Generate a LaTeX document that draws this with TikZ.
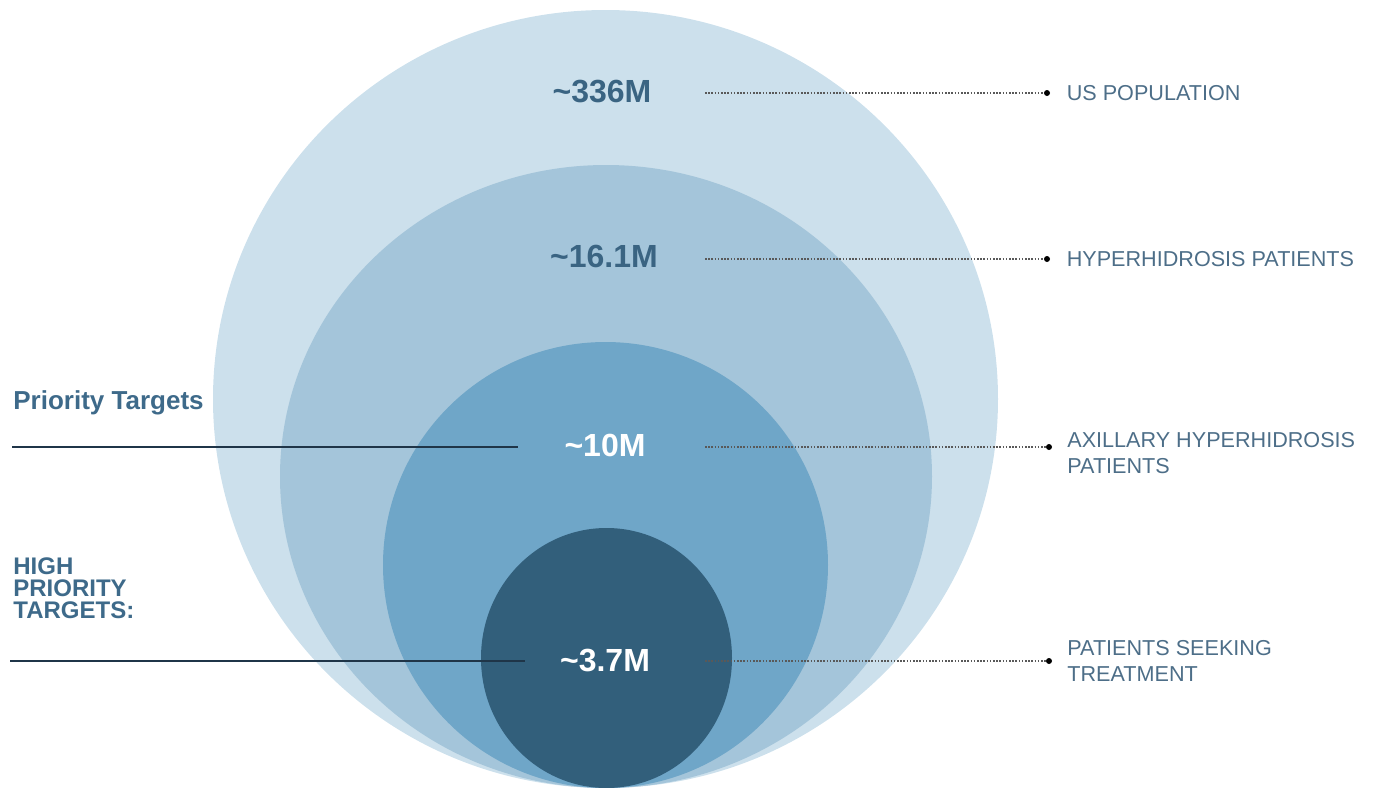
\documentclass[tikz,border=0pt]{standalone}
\usepackage{fontspec}
\setmainfont{Liberation Sans}
\usepackage{tikz}
\usetikzlibrary{positioning}

\definecolor{ringA}{HTML}{CCE0EC}
\definecolor{ringB}{HTML}{A4C5DA}
\definecolor{ringC}{HTML}{6FA6C8}
\definecolor{ringD}{HTML}{325F7B}
\definecolor{numtext}{HTML}{3A6482}
\definecolor{lbltext}{HTML}{4D6E88}
\definecolor{tgttext}{HTML}{3E6A8A}
\definecolor{tgtline}{HTML}{1F3548}

\begin{document}
\begin{tikzpicture}[x=0.5pt, y=-0.5pt, font=\sffamily]

        \tikzstyle{value}=[font=\bfseries\fontsize{16}{18}\selectfont, inner sep=0pt]
        \tikzstyle{dot}=[circle, fill=black, inner sep=0pt, minimum size=3pt]
        \tikzstyle{label}=[font=\fontsize{10.8}{13}\selectfont, text=lbltext, align=left, anchor=west, inner sep=0pt]
        \tikzstyle{target}=[font=\bfseries\fontsize{12}{11}\selectfont, text=tgttext, align=left, anchor=north west, inner sep=0pt]
        \tikzstyle{leader}=[draw=black!65, line width=0.65pt, dash pattern=on 0.8pt off 0.8pt]
        \tikzstyle{bar}=[draw=tgtline, line width=1.4pt]

        \useasboundingbox (0,0) rectangle (1373,788);

        % nested populations, all resting on the bottom edge
        \fill[ringA] (605.5,399) ellipse [x radius=392.5, y radius=389];
        \fill[ringB] (606,476.5) ellipse [x radius=326, y radius=311.5];
        \fill[ringC] (605.5,565) ellipse [x radius=222.5, y radius=223];
        \fill[ringD] (606.5,658) ellipse [x radius=125.5, y radius=130];

        \node[value, text=numtext] (us)   at (602,92)  {\char`\~336M};
        \node[value, text=numtext] (hyp)  at (604,256) {\char`\~16.1M};
        \node[value, text=white]   (axl)  at (605,445) {\char`\~10M};
        \node[value, text=white]   (seek) at (605,660) {\char`\~3.7M};

        \coordinate (us-l)   at (705,93);
        \coordinate (hyp-l)  at (705,259);
        \coordinate (axl-l)  at (705,447);
        \coordinate (seek-l) at (705,661);

        \node[dot] (us-d)   at (1047,93)  {};
        \node[dot] (hyp-d)  at (1047,259) {};
        \node[dot] (axl-d)  at (1049,447) {};
        \node[dot] (seek-d) at (1049,661) {};

        \node[label] (us-t)   [right=8pt of us-d]   {US POPULATION};
        \node[label] (hyp-t)  [right=8pt of hyp-d]  {HYPERHIDROSIS PATIENTS};
        \node[label] (axl-t)  at (1067,453) {AXILLARY HYPERHIDROSIS\\PATIENTS};
        \node[label] (seek-t) at (1067,661) {PATIENTS SEEKING\\TREATMENT};

        \path[leader]
        (us-l)   edge (us-d)
        (hyp-l)  edge (hyp-d)
        (axl-l)  edge (axl-d)
        (seek-l) edge (seek-d)
        ;

        % targets on the left
        \node[target, font=\bfseries\fontsize{13}{14}\selectfont] (prio) at (13,390) {Priority Targets};
        \node[target] (high) at (13,557) {HIGH\\PRIORITY\\TARGETS:};

        \coordinate (prio-a) at (12,447);
        \coordinate (prio-b) at (518,447);
        \coordinate (high-a) at (10,661);
        \coordinate (high-b) at (525,661);

        \path[bar]
        (prio-a) edge (prio-b)
        (high-a) edge (high-b)
        ;
    \end{tikzpicture}
\end{document}
